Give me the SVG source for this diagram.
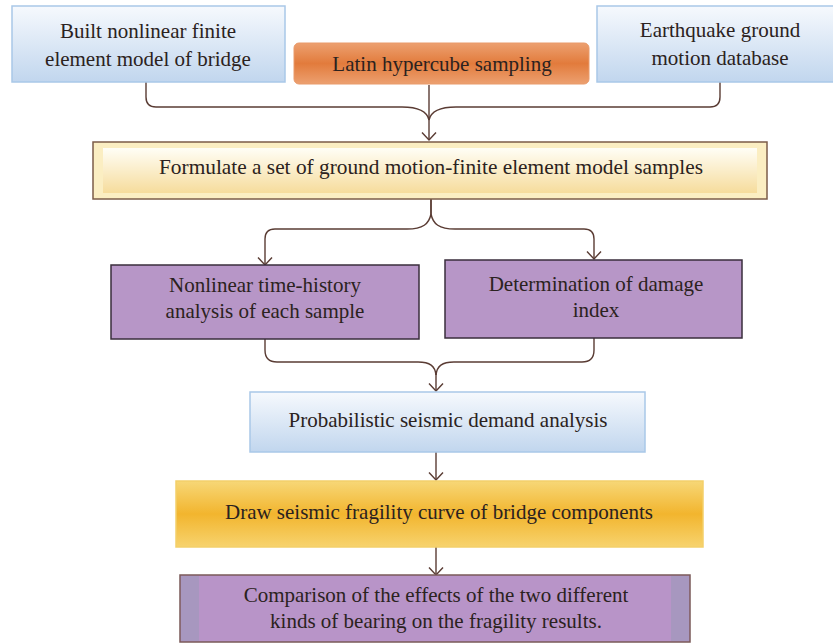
<svg xmlns="http://www.w3.org/2000/svg" width="833" height="644" viewBox="0 0 833 644">
<defs>
<linearGradient id="gBlue" x1="0" y1="0" x2="0" y2="1"><stop offset="0" stop-color="#f6f9fd"/><stop offset="1" stop-color="#c1d6ee"/></linearGradient>
<linearGradient id="gOrange" x1="0" y1="0" x2="0" y2="1"><stop offset="0" stop-color="#eca070"/><stop offset="0.5" stop-color="#e27b3c"/><stop offset="1" stop-color="#eca070"/></linearGradient>
<linearGradient id="gCream" x1="0" y1="0" x2="0" y2="1"><stop offset="0" stop-color="#fffef6"/><stop offset="1" stop-color="#f6dc9c"/></linearGradient>
<linearGradient id="gGold" x1="0" y1="0" x2="0" y2="1"><stop offset="0" stop-color="#f7d777"/><stop offset="0.5" stop-color="#f2b52e"/><stop offset="1" stop-color="#f7d36e"/></linearGradient>
<marker id="arr" viewBox="0 0 10 16" refX="8.5" refY="8" markerWidth="10" markerHeight="16" markerUnits="userSpaceOnUse" orient="auto">
<path d="M1,1 L8.5,8 L1,15" fill="none" stroke="#5a3c34" stroke-width="1.4"/>
</marker>
</defs>
<style>
text{font-family:"Liberation Serif","Times New Roman",serif;font-size:21px;fill:#2b2220;text-anchor:middle}
.blue{fill:url(#gBlue);stroke:#a9c8e8;stroke-width:1.5}
.purple{fill:#b796c7;stroke:#3a2e3c;stroke-width:1.5}
.conn{fill:none;stroke:#5a3c34;stroke-width:1.4}
</style>
<g id="connectors">
<path class="conn" d="M146,82 V97 Q146,107 156,107 H402 C418,107 427,111 429,120"/>
<path class="conn" d="M720,82 V97 Q720,107 710,107 H456 C440,107 431,111 429,120"/>
<path class="conn" d="M429,85 V140" marker-end="url(#arr)"/>
<path class="conn" d="M431,199 V214 C429,224 423,229 407,229 H275 Q265,229 265,239 V265" marker-end="url(#arr)"/>
<path class="conn" d="M431,199 V214 C433,224 439,229 455,229 H584 Q594,229 594,239 V259" marker-end="url(#arr)"/>
<path class="conn" d="M265,339 V350 Q265,362 277,362 H418 C430,362 435,366 436,375"/>
<path class="conn" d="M594,338 V350 Q594,362 582,362 H454 C442,362 437,366 436,375"/>
<path class="conn" d="M436,373 V391" marker-end="url(#arr)"/>
<path class="conn" d="M436,452 V480" marker-end="url(#arr)"/>
<path class="conn" d="M436,547 V575" marker-end="url(#arr)"/>
</g>
<g id="n1">
<rect class="blue" x="12" y="6" width="273" height="76"/>
<text x="148" y="38">Built nonlinear finite</text>
<text x="148" y="66">element model of bridge</text>
</g>
<g id="n2">
<rect x="294" y="43" width="295" height="41" rx="5" fill="url(#gOrange)" stroke="#e99a6a" stroke-width="1"/>
<text x="442" y="71">Latin hypercube sampling</text>
</g>
<g id="n3">
<rect class="blue" x="597" y="6" width="245" height="76"/>
<text x="720" y="37">Earthquake ground</text>
<text x="720" y="65">motion database</text>
</g>
<g id="n4">
<rect x="93" y="142" width="674" height="57" fill="#fbeec2" stroke="#7c5c48" stroke-width="1.5"/>
<rect x="103" y="148" width="654" height="45" fill="url(#gCream)"/>
<text x="431" y="174" textLength="544" lengthAdjust="spacingAndGlyphs">Formulate a set of ground motion-finite element model samples</text>
</g>
<g id="n5">
<rect class="purple" x="111" y="265" width="308" height="74"/>
<text x="265" y="292">Nonlinear time-history</text>
<text x="265" y="318">analysis of each sample</text>
</g>
<g id="n6">
<rect class="purple" x="445" y="260" width="297" height="78"/>
<text x="596" y="291">Determination of damage</text>
<text x="596" y="317">index</text>
</g>
<g id="n7">
<rect class="blue" x="250" y="392" width="395" height="60"/>
<text x="448" y="427">Probabilistic seismic demand analysis</text>
</g>
<g id="n8">
<rect x="176" y="481" width="527" height="66" fill="url(#gGold)" stroke="#f3cf6a" stroke-width="1.5"/>
<text x="439" y="519">Draw seismic fragility curve of bridge components</text>
</g>
<g id="n9">
<rect x="180" y="575" width="510" height="67" fill="#b894c8" stroke="#7a5a58" stroke-width="1.5"/>
<rect x="181" y="576" width="18" height="65" fill="#a797bf"/>
<rect x="671" y="576" width="18" height="65" fill="#a797bf"/>
<text x="436" y="602">Comparison of the effects of the two different</text>
<text x="436" y="628">kinds of bearing on the fragility results.</text>
</g>
</svg>
